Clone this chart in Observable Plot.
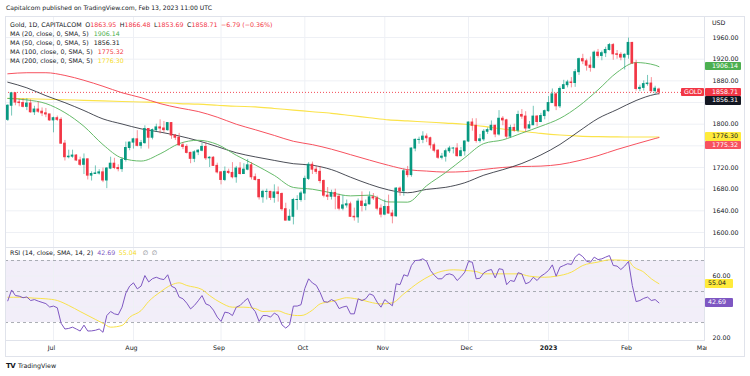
<!DOCTYPE html>
<html><head><meta charset="utf-8">
<script src="https://cdn.jsdelivr.net/npm/d3@7"></script>
<script src="https://cdn.jsdelivr.net/npm/@observablehq/plot@0.6"></script>
<style>
body{margin:0;background:#fff;font-family:"DejaVu Sans",sans-serif;color:#131722;}
#wrap{position:relative;width:750px;height:376px;overflow:hidden;background:#fff;}
.abs{position:absolute;white-space:nowrap;}
.lg{position:absolute;left:10px;font-size:6.3px;line-height:9px;white-space:nowrap;color:#131722;}
.lg span{margin-left:3.5px;}
.bx{position:absolute;font-size:6.3px;line-height:8.6px;height:8.6px;box-sizing:border-box;padding-left:7px;white-space:nowrap;border-radius:1px;}
.ln{position:absolute;background:#e0e3eb;}
</style></head>
<body><div id="wrap"></div>
<script>
// ---------- data ----------
const opens = [1808,1834,1857,1840,1839,1832,1838,1822,1827,1823,1820,1818,1807,1811,1808,1764,1739,1740,1742,1733,1725,1735,1705,1708,1709,1711,1696,1718,1727,1719,1717,1734,1756,1766,1772,1760,1765,1791,1775,1789,1794,1792,1789,1802,1779,1775,1761,1758,1747,1736,1748,1751,1758,1737,1738,1723,1711,1697,1712,1710,1702,1718,1708,1716,1724,1702,1697,1665,1675,1675,1664,1674,1671,1643,1622,1629,1660,1660,1672,1699,1725,1716,1712,1695,1668,1666,1673,1666,1644,1650,1652,1629,1628,1657,1649,1652,1665,1663,1644,1633,1647,1635,1630,1681,1676,1713,1706,1755,1771,1771,1777,1774,1761,1751,1738,1740,1750,1755,1755,1741,1750,1768,1803,1797,1769,1772,1786,1789,1797,1781,1810,1807,1777,1793,1788,1817,1814,1792,1798,1814,1804,1815,1824,1839,1855,1833,1865,1872,1877,1876,1896,1920,1916,1908,1904,1932,1926,1931,1937,1946,1929,1928,1923,1928,1950,1912,1865,1867,1874,1875,1861,1863.95];
const highs = [1836,1857,1858,1846,1847,1847,1845,1833,1841,1830,1829,1818,1813,1815,1812,1770,1752,1752,1744,1739,1745,1736,1712,1723,1716,1719,1720,1739,1737,1725,1738,1767,1767,1774,1788,1770,1797,1792,1791,1800,1808,1805,1802,1803,1781,1783,1766,1762,1748,1751,1753,1765,1765,1740,1740,1728,1712,1721,1717,1729,1722,1729,1727,1735,1729,1708,1698,1678,1680,1676,1688,1684,1673,1654,1642,1663,1668,1676,1704,1729,1730,1722,1722,1697,1683,1678,1680,1671,1668,1660,1656,1645,1662,1675,1660,1675,1672,1667,1651,1660,1669,1641,1683,1684,1717,1722,1756,1773,1776,1786,1782,1776,1765,1753,1746,1754,1759,1757,1764,1757,1769,1804,1810,1810,1781,1790,1793,1806,1798,1825,1814,1809,1798,1800,1824,1827,1823,1805,1833,1816,1820,1826,1851,1865,1858,1869,1881,1881,1886,1901,1922,1929,1920,1924,1935,1938,1935,1942,1949,1949,1936,1932,1930,1959,1951,1918,1872,1880,1890,1886,1870,1866.48];
const lows = [1805,1815,1834,1832,1830,1825,1820,1816,1820,1814,1812,1805,1784,1805,1763,1732,1736,1737,1731,1722,1707,1697,1695,1707,1706,1692,1681,1716,1716,1712,1711,1730,1751,1754,1758,1754,1763,1754,1771,1785,1782,1784,1787,1772,1770,1759,1753,1745,1727,1729,1742,1749,1733,1720,1722,1708,1688,1694,1707,1699,1691,1706,1707,1714,1697,1695,1660,1654,1660,1659,1654,1656,1639,1621,1621,1614,1641,1656,1659,1696,1707,1707,1690,1664,1659,1660,1642,1640,1640,1645,1628,1621,1617,1638,1640,1651,1659,1640,1627,1631,1634,1616,1628,1667,1667,1701,1702,1749,1763,1764,1766,1754,1747,1735,1734,1730,1746,1745,1739,1740,1741,1766,1787,1765,1765,1768,1781,1787,1775,1778,1797,1773,1774,1785,1784,1809,1785,1791,1798,1795,1803,1808,1822,1839,1825,1829,1865,1867,1867,1868,1890,1910,1898,1896,1902,1922,1917,1923,1935,1918,1920,1917,1900,1920,1911,1861,1860,1861,1870,1858,1853,1853.69];
const closes = [1834,1857,1840,1839,1832,1838,1822,1827,1823,1820,1818,1807,1811,1808,1764,1739,1740,1742,1733,1725,1735,1705,1708,1709,1711,1696,1718,1727,1719,1717,1734,1756,1766,1772,1760,1765,1791,1775,1789,1794,1792,1789,1802,1779,1775,1761,1758,1747,1736,1748,1751,1758,1737,1738,1723,1711,1697,1712,1710,1702,1718,1708,1716,1724,1702,1697,1665,1675,1675,1664,1674,1671,1643,1622,1629,1660,1660,1672,1699,1725,1716,1712,1695,1668,1666,1673,1666,1644,1650,1652,1629,1628,1657,1649,1652,1665,1663,1644,1633,1647,1635,1630,1681,1676,1713,1706,1755,1771,1771,1777,1774,1761,1751,1738,1740,1750,1755,1755,1741,1750,1768,1803,1797,1769,1772,1786,1789,1797,1781,1810,1807,1777,1793,1788,1817,1814,1792,1798,1814,1804,1815,1824,1839,1855,1833,1865,1872,1877,1876,1896,1920,1916,1908,1904,1932,1926,1931,1937,1946,1929,1928,1923,1928,1950,1912,1865,1867,1874,1875,1861,1865.5,1858.71];

const maBars = [0,5,10,15,20,25,30,35,40,45,50,55,60,65,70,75,80,85,90,95,100,105,110,115,120,125,130,135,140,145,150,155,160,165,170,171];
const ma20 = [1847.5,1844.8,1838.1,1821.3,1796.0,1762.2,1737.4,1731.9,1745.2,1764.1,1770.3,1762.7,1742.6,1724.7,1705.3,1683.2,1679.9,1673.2,1667.6,1668.9,1656.4,1656.0,1686.4,1710.8,1738.2,1764.2,1771.0,1783.5,1796.2,1810.6,1833.5,1863.3,1895.7,1913.8,1908.9,1906.14];
const ma50 = [1877.5,1867.1,1852.6,1839.7,1825.2,1809.7,1800.3,1791.4,1785.4,1778.2,1769.4,1758.6,1747.2,1739.6,1733.1,1727.0,1724.2,1716.1,1702.1,1689.0,1678.6,1673.4,1679.6,1683.4,1691.8,1705.8,1716.0,1727.5,1743.2,1762.5,1786.9,1810.5,1826.9,1843.7,1855.1,1856.31];
const ma100 = [1893,1895,1895,1890,1881,1870,1858,1849,1838,1830,1823.4,1812.9,1799.9,1789.7,1779.2,1768.4,1762.2,1753.8,1743.7,1733.6,1724.0,1716.0,1713.4,1711.5,1712.4,1716.4,1720.1,1721.8,1722.6,1725.7,1732.7,1741.9,1753.3,1763.6,1773.5,1775.32];
const ma200 = [1848,1847,1846,1845,1844,1843,1842,1841,1840,1838,1837,1835,1833,1832,1829,1826,1823,1820,1816,1812,1808,1806,1804,1802,1800,1796,1791,1787,1783,1780,1778,1777,1776.5,1776.3,1776.3,1776.30];

const rsi = [44.0,51.0,47.4,47.0,46.0,46.5,44.2,44.8,43.8,43.0,42.2,40.0,40.6,39.5,29.5,25.8,26.2,27.0,25.8,24.5,28.3,24.5,24.6,25.0,25.8,23.7,34.5,37.1,35.6,35.0,39.9,49.0,53.5,55.6,51.7,53.5,60.3,56.2,58.3,59.2,58.2,57.7,60.8,53.4,52.2,46.4,45.3,42.5,38.8,41.0,44.0,47.4,42.0,41.0,38.0,33.5,30.7,36.7,36.2,34.5,39.9,41.0,43.5,45.6,40.0,37.0,30.7,34.5,34.5,33.5,36.1,34.5,28.5,26.4,28.5,40.6,40.6,41.5,52.0,58.2,55.5,54.0,49.5,43.5,43.1,44.8,43.5,39.0,40.0,40.6,35.6,35.6,45.3,44.2,45.3,48.5,47.5,43.1,39.9,44.8,42.7,40.8,55.0,54.4,60.8,59.9,66.8,70.0,70.2,71.1,69.4,63.6,60.5,58.2,58.2,60.8,61.4,60.5,57.1,59.5,62.5,69.4,68.9,58.2,58.6,62.0,63.5,64.2,58.8,64.7,64.2,54.4,57.1,56.5,62.1,61.4,55.0,56.0,59.2,57.1,59.9,61.5,63.6,67.2,59.9,65.7,66.8,67.9,67.5,72.2,74.3,72.5,69.5,68.9,72.2,70.6,71.1,72.2,73.2,66.8,66.4,64.2,66.4,69.4,53.9,43.5,44.2,45.6,46.4,44.2,44.8,42.69];
const rsiSmaBars = [0,3,7,10,13,16,19,23,25,27,30,32,35,37,40,43,45,47,51,53,56,59,62,65,67,71,73,76,77,80,82,85,87,89,91,93,95,98,101,104,108,111,115,117,120,123,125,129,134,137,141,144,148,151,155,158,163,164,167,169,171];
const rsiSma = [46.3,46.3,45.7,45.3,44.2,41.0,37.1,32.0,29.5,27.0,28.1,33.4,37.7,43.6,49.6,54.3,55.6,53.9,51.3,47.4,42.7,39.9,39.9,39.0,37.1,37.5,35.8,34.5,34.5,38.0,42.0,43.6,44.9,46.0,45.5,44.5,43.2,42.0,42.7,48.5,56.0,60.3,63.6,64.0,63.6,62.9,61.4,61.4,61.4,59.9,59.2,59.9,62.5,66.8,69.0,70.4,70.0,66.8,62.5,58.2,55.04];

const monthIdx = [12,33,56,78,99,121,142,163,183];
const monthLabels = ["Jul","Aug","Sep","Oct","Nov","Dec","2023","Feb","Mar"];
const priceTicks = [1600,1640,1680,1720,1760,1800,1840,1880,1920,1960];
const rsiTicks = [20,40,60,80];

// ---------- styling ----------
const GREEN = "#089981", RED = "#f23645";
const C20 = "#66bb6a", C50 = "#131722", C100 = "#f7525f", C200 = "#fbe34a";
const PURPLE = "#7e57c2", YEL = "#f9e24b";
const GRID = "#eef0f5";
const FONT = "'DejaVu Sans', sans-serif";
const FS = 6.3;
const xDomain = [-0.604, 182.96];
const mainY = [1572.3, 1998.8], rsiY = [18.4, 78.4];
const MAIN_TOP = 16, MAIN_H = 231, RSI_TOP = 247, RSI_H = 110, RSI_MB = 17;
const BH = 8.6;

const bars = closes.map((c, i) => ({i, o: opens[i], h: highs[i], l: lows[i], c}));
const col = d => d.c >= d.o ? GREEN : RED;
const maRows = (vals) => maBars.map((b, k) => ({b, v: vals[k]}));
const last = closes.length - 1;
const wrap = document.getElementById("wrap");

// value boxes on price axis (positions from the same scale the plot uses)
const yMain = Plot.scale({y: {domain: mainY, range: [MAIN_H, 0]}});
const mainLabels = [
  {v: ma20[ma20.length - 1], bg: "#4caf50", fg: "#fff"},
  {v: closes[last], bg: RED, fg: "#fff", tag: "GOLD"},
  {v: ma50[ma50.length - 1], bg: "#131722", fg: "#fff"},
  {v: ma200[ma200.length - 1], bg: "#ffeb3b", fg: "#131722"},
  {v: ma100[ma100.length - 1], bg: C100, fg: "#fff"}
].map(d => ({...d, y: yMain.apply(d.v)})).sort((a, b) => a.y - b.y);
let prev = -1e9;
for (const d of mainLabels) { let t = d.y - BH / 2; if (t < prev + BH) t = prev + BH; prev = t; d.top = t; }
const shownPriceTicks = priceTicks.filter(t => mainLabels.every(d => Math.abs(yMain.apply(t) - (d.top + BH / 2)) >= 6));

const yRsi = Plot.scale({y: {domain: rsiY, range: [RSI_H - RSI_MB, 0]}});
const rsiLabels = [{v: rsiSma[rsiSma.length - 1], bg: "#ffeb3b", fg: "#131722"}, {v: rsi[rsi.length - 1], bg: PURPLE, fg: "#fff"}]
  .map(d => ({...d, top: yRsi.apply(d.v) - BH / 2}));
const shownRsiTicks = rsiTicks.filter(t => rsiLabels.every(d => Math.abs(yRsi.apply(t) - (d.top + BH / 2)) >= 6));

const main = Plot.plot({
  width: 750, height: MAIN_H,
  marginLeft: 5, marginRight: 46, marginTop: 0, marginBottom: 0,
  style: {fontFamily: FONT, fontSize: FS + "px", background: "transparent", overflow: "hidden"},
  x: {domain: xDomain, axis: null},
  y: {domain: mainY, axis: null},
  marks: [
    Plot.ruleY(priceTicks, {stroke: GRID}),
    Plot.ruleX(monthIdx.slice(0, -1), {stroke: GRID}),
    Plot.ruleY([closes[last]], {stroke: RED, strokeDasharray: "1,2", strokeOpacity: 0.9}),
    Plot.line(maRows(ma200), {x: "b", y: "v", stroke: C200, strokeWidth: 1.1, curve: "monotone-x"}),
    Plot.line(maRows(ma100), {x: "b", y: "v", stroke: C100, strokeWidth: 1, curve: "monotone-x"}),
    Plot.line(maRows(ma50), {x: "b", y: "v", stroke: C50, strokeWidth: 0.9, curve: "monotone-x", strokeOpacity: 0.85}),
    Plot.line(maRows(ma20), {x: "b", y: "v", stroke: C20, strokeWidth: 1, curve: "monotone-x"}),
    Plot.ruleX(bars, {x: "i", y1: "l", y2: "h", stroke: col, strokeOpacity: 0.55}),
    Plot.rect(bars, {x1: d => d.i - 0.35, x2: d => d.i + 0.35, y1: "o", y2: "c", fill: col, insetTop: -0.5, insetBottom: -0.5}),
    Plot.text(shownPriceTicks, {y: d => d, text: d => d.toFixed(2), frameAnchor: "right", dx: 8, textAnchor: "start", fill: "#131722", fontSize: FS})
  ]
});
main.style.position = "absolute"; main.style.left = "0px"; main.style.top = MAIN_TOP + "px";
wrap.appendChild(main);

const rsiRows = rsi.map((v, i) => ({i, v}));
const smaRows = rsiSmaBars.map((b, k) => ({b, v: rsiSma[k]}));
const monthRows = monthIdx.map((m, k) => ({m, t: monthLabels[k]}));

const rp = Plot.plot({
  width: 750, height: RSI_H,
  marginLeft: 5, marginRight: 46, marginTop: 0, marginBottom: RSI_MB,
  style: {fontFamily: FONT, fontSize: FS + "px", background: "transparent", overflow: "hidden"},
  x: {domain: xDomain, axis: null},
  y: {domain: rsiY, axis: null},
  marks: [
    Plot.rect([0], {y1: 30, y2: 70, fill: PURPLE, fillOpacity: 0.1}),
    Plot.ruleY([40, 60], {stroke: GRID}),
    Plot.ruleX(monthIdx.slice(0, -1), {stroke: GRID}),
    Plot.ruleY([70, 50, 30], {stroke: "#9598a1", strokeDasharray: "3,3", strokeOpacity: 0.8}),
    Plot.line(smaRows, {x: "b", y: "v", stroke: YEL, strokeWidth: 1, curve: "monotone-x"}),
    Plot.line(rsiRows, {x: "i", y: "v", stroke: PURPLE, strokeWidth: 1}),
    Plot.text(shownRsiTicks, {y: d => d, text: d => d.toFixed(2), frameAnchor: "right", dx: 8, textAnchor: "start", fill: "#131722", fontSize: FS}),
    Plot.text(monthRows.filter(d => d.t !== "2023"), {x: "m", text: "t", frameAnchor: "bottom", dy: 9, dx: -2, fill: "#131722", fontSize: FS}),
    Plot.text(monthRows.filter(d => d.t === "2023"), {x: "m", text: "t", frameAnchor: "bottom", dy: 9, fill: "#131722", fontSize: FS, fontWeight: "bold"})
  ]
});
rp.style.position = "absolute"; rp.style.left = "0px"; rp.style.top = RSI_TOP + "px";
wrap.appendChild(rp);

// price-axis column covers the time-axis overflow (the clipped "Mar")
const cover = document.createElement("div");
Object.assign(cover.style, {position: "absolute", left: "707px", top: "341px", width: "37px", height: "15px", background: "#fff"});
wrap.appendChild(cover);

// ---------- frame lines ----------
function line(l, t, w, h) { const d = document.createElement("div"); d.className = "ln"; Object.assign(d.style, {left: l + "px", top: t + "px", width: w + "px", height: h + "px"}); wrap.appendChild(d); }
line(5, 16, 740, 1); line(5, 356, 740, 1); line(5, 16, 1, 341); line(744, 16, 1, 341);
line(704, 16, 1, 325); line(5, 247, 740, 1); line(5, 340, 699, 1);

// ---------- texts ----------
function html(cls, style, inner) { const d = document.createElement("div"); d.className = cls; Object.assign(d.style, style); d.innerHTML = inner; wrap.appendChild(d); return d; }
html("abs", {left: "6px", top: "3px", fontSize: "6.1px", lineHeight: "10px", color: "#131722"}, "Capitalcom published on TradingView.com, Feb 13, 2023 11:00 UTC");

const chg = closes[last] - closes[last - 1];
const pct = chg / closes[last - 1] * 100;
const vc = chg < 0 ? RED : GREEN;
const f2 = v => v.toFixed(2).replace("-", "\u2212");
const fld = (k, v) => `<span>${k}<b style="font-weight:400;color:${vc}">${f2(v)}</b></span>`;
html("lg", {top: "19.5px"}, `Gold, 1D, CAPITALCOM${fld("O", opens[last])}${fld("H", highs[last])}${fld("L", lows[last])}${fld("C", closes[last])}<span style="color:${vc}">${f2(chg)} (${f2(pct)}%)</span>`);
const maLeg = [["20", ma20, "#4caf50"], ["50", ma50, "#131722"], ["100", ma100, RED], ["200", ma200, "#f5dc2a"]];
maLeg.forEach(([n, arr, c], k) => {
  html("lg", {top: (28.7 + k * 9.25) + "px"}, `MA (${n}, close, 0, SMA, 5)<span style="margin-left:5px;color:${c}">${arr[arr.length - 1].toFixed(2)}</span>`);
});
html("lg", {top: "247.5px"}, `RSI (14, close, SMA, 14, 2)<span style="margin-left:4px;color:${PURPLE}">${rsi[rsi.length - 1].toFixed(2)}</span><span style="color:#f5dc2a">${rsiSma[rsiSma.length - 1].toFixed(2)}</span><span style="margin-left:6px;color:#787b86">\u2205</span><span style="color:#787b86">\u2205</span>`);
html("abs", {left: "712px", top: "17.5px", fontSize: FS + "px", lineHeight: "9px", color: "#131722"}, "USD");

for (const d of mainLabels) {
  html("bx", {left: "705px", top: (MAIN_TOP + d.top) + "px", width: "36px", background: d.bg, color: d.fg}, d.v.toFixed(2));
  if (d.tag) html("bx", {left: "681px", top: (MAIN_TOP + d.top) + "px", width: "23px", background: d.bg, color: d.fg, paddingLeft: "3px"}, d.tag);
}
for (const d of rsiLabels) {
  html("bx", {left: "705px", top: (RSI_TOP + d.top) + "px", width: "28px", background: d.bg, color: d.fg, paddingLeft: "3px"}, d.v.toFixed(2));
}

// ---------- footer ----------
html("abs", {left: "6px", top: "361px", fontSize: "7px", lineHeight: "10px", fontWeight: "bold", color: "#131722", letterSpacing: "-0.6px"}, "TV");
html("abs", {left: "18px", top: "361px", fontSize: "6.3px", lineHeight: "10px", color: "#131722"}, "TradingView");
</script></body></html>
